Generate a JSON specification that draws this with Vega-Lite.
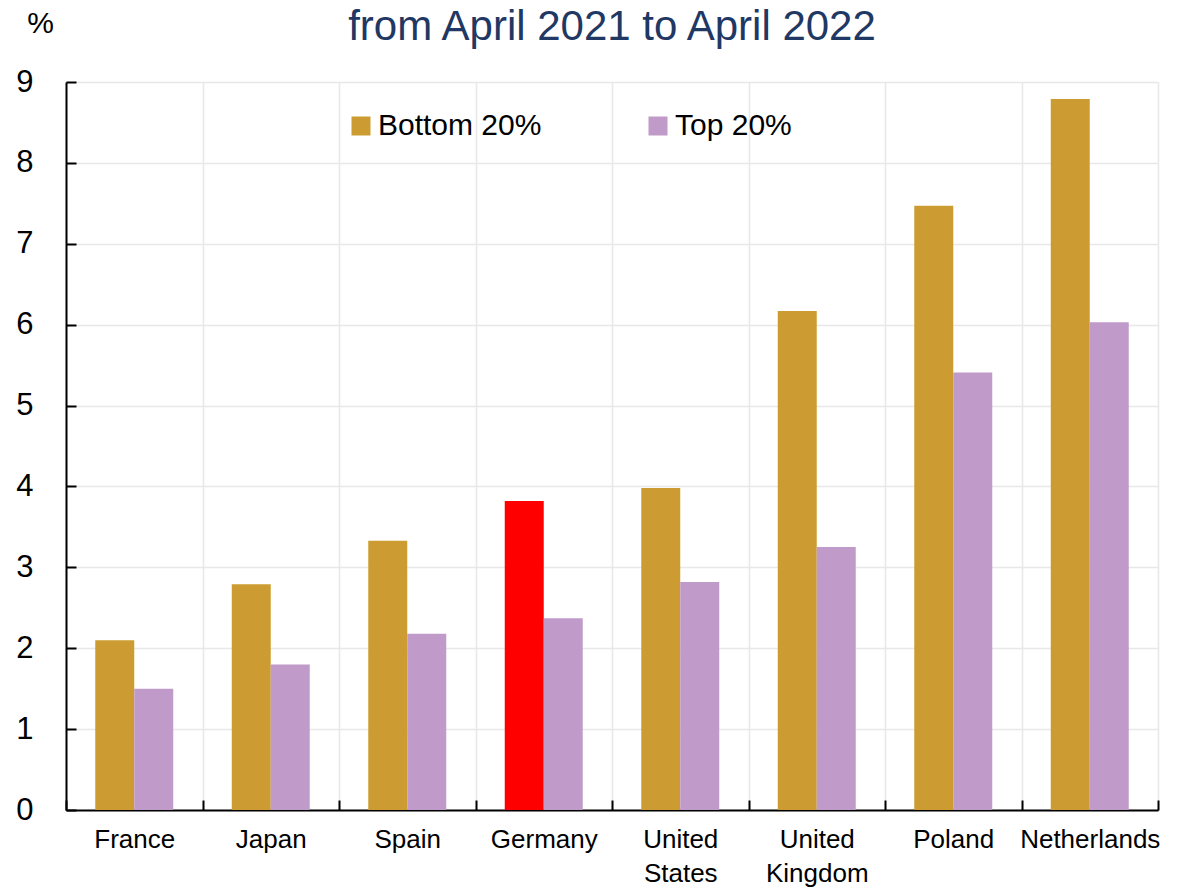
{
  "$schema": "https://vega.github.io/schema/vega-lite/v6.json",
  "width": 1092,
  "height": 728,
  "autosize": {"type": "none"},
  "padding": {"left": 66, "top": 82, "right": 25, "bottom": 86},
  "background": "white",
  "title": {"text": "from April 2021 to April 2022", "color": "#1F3864", "fontSize": 42, "font": "Liberation Sans", "fontWeight": "normal", "anchor": "middle", "offset": -41},
  "data": {"values": [
    {"country": "France", "series": "Bottom 20%", "value": 2.10},
    {"country": "France", "series": "Top 20%", "value": 1.50},
    {"country": "Japan", "series": "Bottom 20%", "value": 2.79},
    {"country": "Japan", "series": "Top 20%", "value": 1.80},
    {"country": "Spain", "series": "Bottom 20%", "value": 3.33},
    {"country": "Spain", "series": "Top 20%", "value": 2.18},
    {"country": "Germany", "series": "Bottom 20%", "value": 3.82},
    {"country": "Germany", "series": "Top 20%", "value": 2.37},
    {"country": "United States", "series": "Bottom 20%", "value": 3.98},
    {"country": "United States", "series": "Top 20%", "value": 2.82},
    {"country": "United Kingdom", "series": "Bottom 20%", "value": 6.17},
    {"country": "United Kingdom", "series": "Top 20%", "value": 3.25},
    {"country": "Poland", "series": "Bottom 20%", "value": 7.47},
    {"country": "Poland", "series": "Top 20%", "value": 5.41},
    {"country": "Netherlands", "series": "Bottom 20%", "value": 8.79},
    {"country": "Netherlands", "series": "Top 20%", "value": 6.03}
  ]},
  "mark": {"type": "bar"},
  "encoding": {
    "x": {
      "field": "country", "type": "nominal",
      "sort": ["France", "Japan", "Spain", "Germany", "United States", "United Kingdom", "Poland", "Netherlands"],
      "scale": {"paddingInner": 0, "paddingOuter": 0},
      "axis": {
        "title": null, "labelAngle": 0, "labelFont": "Liberation Sans", "labelFontSize": 26, "labelColor": "black",
        "labelExpr": "split(datum.label, ' ')", "labelLineHeight": 34, "labelPadding": 26,
        "tickBand": "extent", "tickSize": -10, "tickColor": "black", "tickWidth": 2,
        "domainColor": "black", "domainWidth": 2,
        "grid": true, "gridColor": "#E8E8E8", "gridWidth": 1.5
      }
    },
    "xOffset": {"field": "series", "sort": ["Bottom 20%", "Top 20%"], "scale": {"paddingInner": 0, "paddingOuter": 0.75}},
    "y": {
      "field": "value", "type": "quantitative",
      "scale": {"domain": [0, 9], "nice": false},
      "axis": {
        "title": "%", "titleAngle": 0, "titleX": -26, "titleY": -59, "titleAlign": "center", "titleBaseline": "middle",
        "titleFont": "Liberation Sans", "titleFontSize": 30, "titleFontWeight": "normal", "titleColor": "black",
        "values": [0, 1, 2, 3, 4, 5, 6, 7, 8, 9],
        "labelFont": "Liberation Sans", "labelFontSize": 31, "labelColor": "black", "labelPadding": 43,
        "tickSize": -10, "tickColor": "black", "tickWidth": 2,
        "domainColor": "black", "domainWidth": 2,
        "grid": true, "gridColor": "#E8E8E8", "gridWidth": 1.5
      }
    },
    "color": {
      "condition": {"test": "datum.country === 'Germany' && datum.series === 'Bottom 20%'", "value": "#FF0000"},
      "field": "series", "type": "nominal",
      "scale": {"domain": ["Bottom 20%", "Top 20%"], "range": ["#CC9C33", "#C09AC8"]},
      "legend": {
        "title": null, "orient": "none", "legendX": 280, "legendY": 29, "direction": "horizontal",
        "symbolType": "square", "symbolSize": 361, "symbolStrokeWidth": 0, "symbolOpacity": 1,
        "labelFont": "Liberation Sans", "labelFontSize": 30, "labelColor": "black", "labelOffset": 2,
        "columnPadding": 101, "labelLimit": 400
      }
    }
  },
  "config": {"view": {"stroke": null}}
}
